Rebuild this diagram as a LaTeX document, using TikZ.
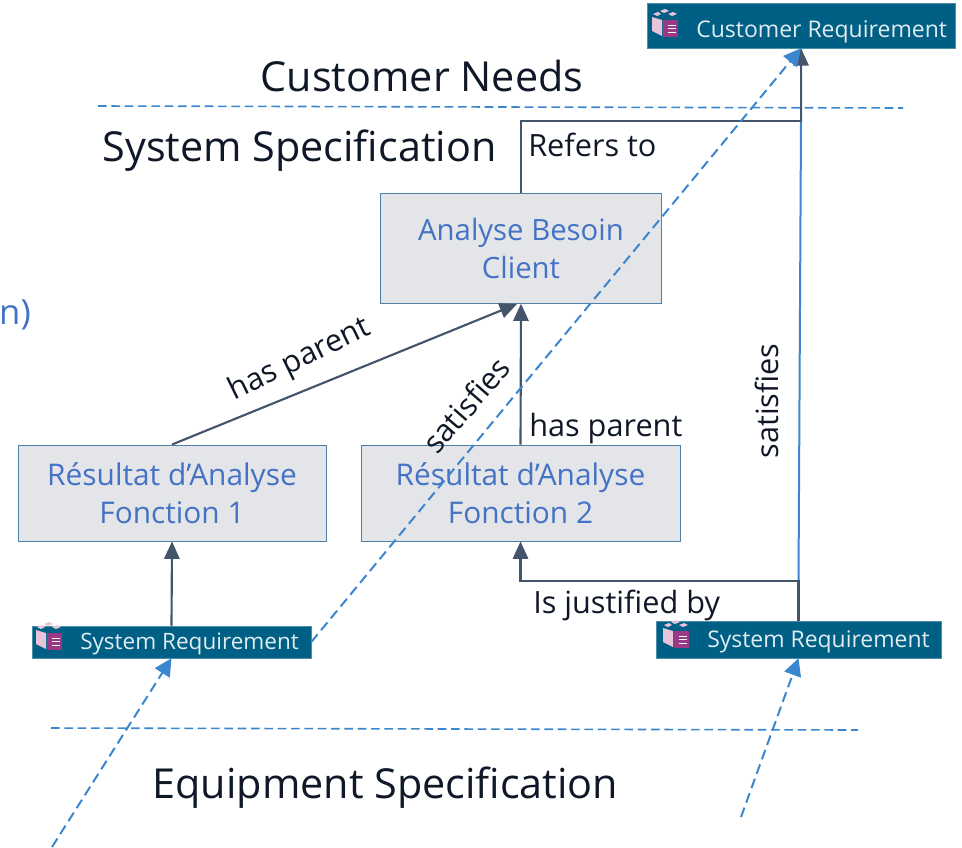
\documentclass[tikz,border=0pt]{standalone}
\usepackage{fontspec}
\setmainfont{Open Sans}
\usetikzlibrary{arrows.meta}
\definecolor{darkline}{HTML}{44546A}
\definecolor{blueline}{HTML}{3A87D0}
\definecolor{boxfill}{HTML}{E4E5E8}
\definecolor{boxedge}{HTML}{4F81A8}
\definecolor{boxtext}{HTML}{4472C4}
\definecolor{teal}{HTML}{005F85}
\definecolor{inktext}{HTML}{101828}
\definecolor{iconpink}{HTML}{E8C4D8}
\definecolor{iconmag}{HTML}{9A3A86}
\newcommand{\fs}[2]{\fontsize{#1pt}{#2pt}\selectfont}
\tikzset{
  x=0.75pt,y=-0.75pt,
  func/.style={draw=boxedge,line width=0.7pt,fill=boxfill,text=boxtext,align=center,inner sep=0pt,font=\fs{22.4}{28.5}},
  req/.style={fill=teal,draw=teal!70!white,line width=0.4pt,text=white!88!teal,inner sep=0pt,anchor=center},
  rel/.style={draw=darkline,line width=1.6pt,-{Triangle[length=13pt,width=11.5pt,fill=darkline]}},
  sat/.style={draw=blueline,line width=1.5pt,dash pattern=on 7.5pt off 4pt,-{Triangle[length=13pt,width=13pt,fill=blueline]}},
  sep/.style={draw=blueline,line width=1.2pt,dash pattern=on 6.5pt off 3.5pt},
  lab/.style={text=inktext,inner sep=0pt,font=\fs{23}{27}},
  head/.style={text=inktext,inner sep=0pt,font=\fs{31}{37}},
}
\newcommand{\reqicon}[2]{%
  \begin{scope}[shift={(#1,#2)}]
    \fill[iconpink] (-13,-8) -- (-3,-5) -- (-3,11) -- (-13,6) -- cycle;
    \fill[iconpink] (-12,-11) -- (-7,-13) -- (-4,-11) -- (-8,-9) -- cycle;
    \fill[iconpink] (-5,-14) -- (0,-16) -- (4,-14) -- (-1,-12) -- cycle;
    \fill[iconpink] (3,-11) -- (8,-13) -- (12,-11) -- (7,-9) -- cycle;
    \fill[iconmag] (-2,-5) rectangle (13,12);
    \draw[white,line width=0.7pt] (3,0) -- (11,0) (3,3.5) -- (11,3.5) (3,7) -- (11,7);
  \end{scope}}
\begin{document}
\begin{tikzpicture}
\useasboundingbox (0,0) rectangle (962,847);
% requirement tags
\node[req,minimum width=231pt,minimum height=33.75pt] (cust) at (801,25.5) {};
\node[req,minimum width=209.25pt,minimum height=24pt] (sys1) at (171.5,642) {};
\node[req,minimum width=213.75pt,minimum height=27.75pt] (sys2) at (798.5,639.5) {};
\reqicon{665}{25}
\reqicon{49}{638}
\reqicon{676}{636}
\node[text=white!88!teal,inner sep=0pt,anchor=west,font=\fs{17.25}{20}] (custt) at (696,31.5) {Customer Requirement};
\node[text=white!88!teal,inner sep=0pt,anchor=west,font=\fs{16.9}{20}] (sys1t) at (80,643.5) {System Requirement};
\node[text=white!88!teal,inner sep=0pt,anchor=west,font=\fs{17.2}{20}] (sys2t) at (707,642) {System Requirement};
% function boxes
\node[func,font=\fs{22}{28.5},minimum width=210.5pt,minimum height=82pt] (ana) at (521,248.5) {\raisebox{0pt}{Analyse Besoin}\\Client};
\node[func,minimum width=231pt,minimum height=72pt] (res1) at (172,493) {Résultat d’Analyse\\Fonction 1};
\node[func,minimum width=239.25pt,minimum height=72pt] (res2) at (520.5,493) {Résultat d’Analyse\\Fonction 2};
% free ends and elbows
\coordinate (d1) at (52,847);
\coordinate (d2) at (741,817);
\coordinate (sepa) at (98,106);
\coordinate (sepb) at (903,108);
\coordinate (sepc) at (51,728);
\coordinate (sepd) at (858,730);
\coordinate (refer) at (521,121);
\coordinate (refel) at (801,121);
\coordinate (jel) at (798.5,581);
\coordinate (jer) at (520.5,581);
% separators
\draw[sep] (sepa) -- (sepb);
\draw[sep] (sepc) -- (sepd);
% solid satisfies
\draw[draw=blueline,line width=1.5pt] (sys2.north) -- (jel) -- (refel) -- (cust.south);
% relations
\draw[rel] (ana.north) -- (refer) -- (refel) -- (cust.south);
\draw[rel] (res1.north) -- (517,304);
\draw[rel] (res2.north) -- (ana.south);
\draw[rel] (sys1.north) -- (res1.south);
\draw[rel] (sys2.north) -- (jel) -- (jer) -- (res2.south);
% dashed satisfies
\draw[sat] (sys1.east) -- (cust.south);
\draw[sat] (d1) -- (sys1.south);
\draw[sat] (d2) -- (sys2.south);
% labels
\node[head,anchor=center] (needs) at (422,75.5) {Customer Needs};
\node[head,anchor=center] (spec) at (299.5,150.5) {System Specification};
\node[head,anchor=center] (equip) at (385.5,787.5) {Equipment Specification};
\node[lab,anchor=west] (l1) at (528,145) {Refers to};
\node[lab,rotate=26,anchor=center] (l2) at (300,360) {has parent};
\node[lab,rotate=49,anchor=center] (l3) at (466,405) {satisfies};
\node[lab,anchor=west] (l4) at (529,428.5) {has parent};
\node[lab,rotate=90,anchor=center] (l5) at (767,401) {satisfies};
\node[lab,anchor=west] (l6) at (533,605) {Is justified by};
\node[text=boxtext,inner sep=0pt,anchor=center,font=\fs{26}{30}] (frag) at (15,315) {n)};
\end{tikzpicture}
\end{document}
